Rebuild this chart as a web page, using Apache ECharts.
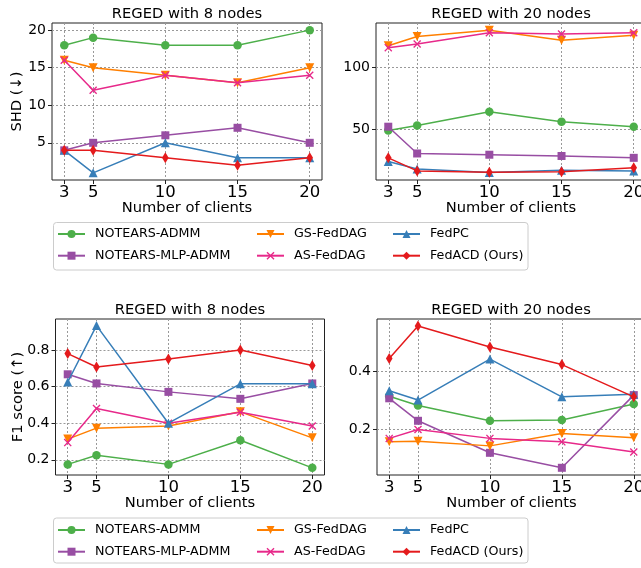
<!DOCTYPE html>
<html>
<head>
<meta charset="utf-8">
<script src="https://cdn.jsdelivr.net/npm/echarts@6/dist/echarts.min.js"></script>
<style>
html,body{margin:0;padding:0;background:#fff;}
#chart{width:641px;height:568px;}
</style>
</head>
<body>
<div id="chart"></div>
<script>
// ---------- data ----------
const clients = [3, 5, 10, 15, 20];
const methods = ['NOTEARS-ADMM', 'NOTEARS-MLP-ADMM', 'GS-FedDAG', 'AS-FedDAG', 'FedPC', 'FedACD (Ours)'];
const panelTitles = ['REGED with 8 nodes', 'REGED with 20 nodes', 'REGED with 8 nodes', 'REGED with 20 nodes'];
const yAxisNames = ['SHD (↓)', 'F1 score (↑)'];
const xAxisName = 'Number of clients';

// SHD, 8 nodes
const shd8_notearsAdmm    = [18, 19, 18, 18, 20];
const shd8_notearsMlpAdmm = [4, 5, 6, 7, 5];
const shd8_gsFedDag       = [16, 15, 14, 13, 15];
const shd8_asFedDag       = [16, 12, 14, 13, 14];
const shd8_fedPc          = [4, 1, 5, 3, 3];
const shd8_fedAcd         = [4, 4, 3, 2, 3];

// SHD, 20 nodes
const shd20_notearsAdmm    = [49, 53, 64, 56, 52];
const shd20_notearsMlpAdmm = [52, 30.5, 29.5, 28.5, 27];
const shd20_gsFedDag       = [117, 124.5, 129.5, 121.5, 125.5];
const shd20_asFedDag       = [115.5, 118.5, 127.5, 126.5, 127.5];
const shd20_fedPc          = [24, 18, 15.3, 17, 16.5];
const shd20_fedAcd         = [27, 16.5, 15.5, 15.8, 19];

// F1, 8 nodes
const f18_notearsAdmm    = [0.175, 0.225, 0.175, 0.307, 0.156];
const f18_notearsMlpAdmm = [0.667, 0.617, 0.571, 0.533, 0.617];
const f18_gsFedDag       = [0.313, 0.373, 0.385, 0.462, 0.32];
const f18_asFedDag       = [0.294, 0.48, 0.4, 0.46, 0.385];
const f18_fedPc          = [0.625, 0.933, 0.4, 0.615, 0.615];
const f18_fedAcd         = [0.78, 0.707, 0.75, 0.8, 0.715];

// F1, 20 nodes
const f120_notearsAdmm    = [0.314, 0.282, 0.229, 0.232, 0.287];
const f120_notearsMlpAdmm = [0.307, 0.229, 0.118, 0.066, 0.318];
const f120_gsFedDag       = [0.156, 0.158, 0.142, 0.185, 0.17];
const f120_asFedDag       = [0.168, 0.199, 0.168, 0.156, 0.121];
const f120_fedPc          = [0.333, 0.301, 0.443, 0.312, 0.321];
const f120_fedAcd         = [0.445, 0.558, 0.485, 0.424, 0.312];

// y tick labels per panel
const yTicksShd8  = [5, 10, 15, 20];
const yTicksShd20 = [50, 100];
const yTicksF18   = [0.2, 0.4, 0.6, 0.8];
const yTicksF120  = [0.2, 0.4];

// ---------- layout / style ----------
const panelData = [
  [shd8_notearsAdmm, shd8_notearsMlpAdmm, shd8_gsFedDag, shd8_asFedDag, shd8_fedPc, shd8_fedAcd],
  [shd20_notearsAdmm, shd20_notearsMlpAdmm, shd20_gsFedDag, shd20_asFedDag, shd20_fedPc, shd20_fedAcd],
  [f18_notearsAdmm, f18_notearsMlpAdmm, f18_gsFedDag, f18_asFedDag, f18_fedPc, f18_fedAcd],
  [f120_notearsAdmm, f120_notearsMlpAdmm, f120_gsFedDag, f120_asFedDag, f120_fedPc, f120_fedAcd]
];
const panelYTicks = [yTicksShd8, yTicksShd20, yTicksF18, yTicksF120];
const panelYRange = [[0.05, 20.95], [9.2, 135.3], [0.117, 0.969], [0.041, 0.582]];
const grids = [
  {left: 52, top: 23, width: 270, height: 157},
  {left: 376, top: 23, width: 270, height: 157},
  {left: 55.5, top: 319, width: 269, height: 156},
  {left: 377, top: 319, width: 269, height: 156}
];
const titlePos = [[187, 14], [511, 14], [190, 310], [511, 310]];

const colors = ['#4daf4a', '#984ea3', '#ff7f00', '#e7298a', '#377eb8', '#e41a1c'];
const xPath = 'path://M0,1.2L1.2,0L5,3.8L8.8,0L10,1.2L6.2,5L10,8.8L8.8,10L5,6.2L1.2,10L0,8.8L3.8,5Z';
const dPath = 'path://M3,0L6,5L3,10L0,5Z';
const symbols = ['circle', 'rect', 'triangle', xPath, 'triangle', dPath];
const symbolRot = [0, 0, 180, 0, 0, 0];
const symbolSizes = [8.5, 8, 9, 8, 9, 11];
const FONT = 'DejaVu Sans';
const axisColor = '#222';

const xAxes = [], yAxes = [], series = [];
grids.forEach((g, p) => {
  g.show = true;
  g.borderColor = axisColor;
  g.borderWidth = 1;
  g.containLabel = false;
  g.outerBoundsMode = 'none';
  xAxes.push({
    type: 'value', gridIndex: p, min: 2.15, max: 20.85,
    axisLine: {show: false},
    axisTick: {show: true, length: 4, customValues: clients, lineStyle: {color: axisColor, width: 1}},
    axisLabel: {customValues: clients, fontSize: 16.5, fontFamily: FONT, color: '#000', margin: 4, lineHeight: 17},
    splitLine: {show: true, lineStyle: {color: '#999', type: [2, 2], width: 1}},
    name: xAxisName, nameLocation: 'middle', nameGap: 21, nameMoveOverlap: false,
    nameTextStyle: {fontSize: 14.7, fontFamily: FONT, color: '#000', lineHeight: 15}
  });
  yAxes.push({
    type: 'value', gridIndex: p, min: panelYRange[p][0], max: panelYRange[p][1],
    axisLine: {show: false},
    axisTick: {show: true, length: 4, customValues: panelYTicks[p], lineStyle: {color: axisColor, width: 1}},
    axisLabel: {customValues: panelYTicks[p], fontSize: 14, fontFamily: FONT, color: '#000', margin: 6},
    splitLine: {show: true, lineStyle: {color: '#999', type: [2, 2], width: 1}},
    name: (p % 2 === 0) ? yAxisNames[Math.floor(p / 2)] : '',
    nameLocation: 'middle', nameGap: p === 0 ? 27 : 30, nameRotate: 90, nameMoveOverlap: false,
    nameTextStyle: {fontSize: 14.7, fontFamily: FONT, color: '#000', lineHeight: 15}
  });
  methods.forEach((m, k) => {
    series.push({
      type: 'line', name: m, xAxisIndex: p, yAxisIndex: p,
      data: clients.map((c, i) => [c, panelData[p][k][i]]),
      symbol: symbols[k], symbolRotate: symbolRot[k], symbolSize: symbolSizes[k],
      symbolKeepAspect: true,
      showAllSymbol: true,
      lineStyle: {color: colors[k], width: 1.5},
      itemStyle: {color: colors[k], opacity: 1},
      emphasis: {disabled: true},
      z: 2 + k
    });
  });
});

function legendCols(topY) {
  const cols = [[0, 1, 57], [2, 3, 256], [4, 5, 392]];
  return cols.map(c => ({
    orient: 'vertical', left: c[2], top: topY, height: 40, padding: 0,
    itemWidth: 27, itemHeight: 10, itemGap: 7.7,
    selectedMode: false,
    data: [methods[c[0]], methods[c[1]]],
    textStyle: {fontSize: 12.7, fontFamily: FONT, color: '#000', lineHeight: 14, padding: [0, 0, 0, 5]}
  }));
}

const graphics = [];
titlePos.forEach((t, i) => {
  graphics.push({type: 'text', x: t[0], y: t[1], silent: true,
    style: {text: panelTitles[i], fontSize: 14.7, fontFamily: FONT, fill: '#000', align: 'center', verticalAlign: 'middle'}});
});
graphics.push({type: 'rect', shape: {x: 53.5, y: 222.5, width: 474.5, height: 47.5, r: 3},
  style: {fill: '#fff', stroke: '#ccc', lineWidth: 1}, z: -1});
graphics.push({type: 'rect', shape: {x: 53.5, y: 518, width: 474.5, height: 45, r: 3},
  style: {fill: '#fff', stroke: '#ccc', lineWidth: 1}, z: -1});

const chart = echarts.init(document.getElementById('chart'), null, {renderer: 'canvas'});
chart.setOption({
  animation: false,
  backgroundColor: '#fff',
  grid: grids,
  xAxis: xAxes,
  yAxis: yAxes,
  legend: legendCols(227).concat(legendCols(523)),
  graphic: graphics,
  series: series
});
</script>
</body>
</html>
